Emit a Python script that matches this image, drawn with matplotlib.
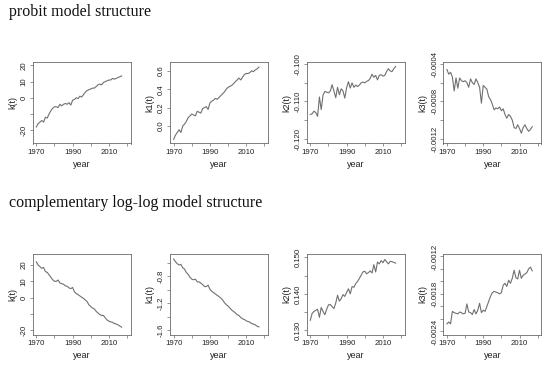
import numpy as np
import matplotlib
matplotlib.use("Agg")
import matplotlib.pyplot as plt

years = list(range(1970, 2018))

probit_k = [-18, -16, -15, -14, -15, -12, -12.5, -10, -8, -6.5, -5.5, -5.5, -6, -4, -5, -4,
            -3.5, -4, -3, -4.5, -1.5, -1, 0, -0.5, 1, 0.5, 2, 3.5, 4.5, 5, 5.5, 6, 6, 7, 8,
            8.5, 8, 9.5, 10, 10.5, 11, 11, 12, 11.5, 12, 12.5, 13, 13.5]
probit_k1 = [-0.145, -0.10, -0.07, -0.04, -0.07, 0.0, 0.02, 0.05, 0.09, 0.11, 0.13, 0.12,
             0.11, 0.16, 0.15, 0.14, 0.19, 0.20, 0.21, 0.18, 0.25, 0.27, 0.28, 0.30, 0.29,
             0.31, 0.33, 0.35, 0.37, 0.40, 0.42, 0.43, 0.44, 0.46, 0.48, 0.50, 0.52, 0.50,
             0.53, 0.56, 0.57, 0.57, 0.58, 0.60, 0.59, 0.61, 0.62, 0.64]
probit_k2 = [-0.1135, -0.1133, -0.1126, -0.1130, -0.1140, -0.1088, -0.1122, -0.1083, -0.1073,
             -0.1075, -0.1077, -0.1072, -0.1055, -0.1072, -0.1090, -0.1062, -0.1082, -0.1066,
             -0.1072, -0.1091, -0.1063, -0.1047, -0.1064, -0.1050, -0.1062, -0.1056, -0.1060,
             -0.1056, -0.1050, -0.1048, -0.1050, -0.1046, -0.1044, -0.1038, -0.1027, -0.1035,
             -0.1030, -0.1042, -0.1030, -0.1028, -0.1032, -0.1030, -0.1020, -0.1012, -0.1018,
             -0.1020, -0.1012, -0.1006]
probit_k3 = [-0.00046, -0.00051, -0.00049, -0.00054, -0.00069, -0.00055, -0.00066, -0.00055,
             -0.00058, -0.00059, -0.00058, -0.00060, -0.00065, -0.00056, -0.00060, -0.00062,
             -0.00056, -0.00060, -0.00065, -0.00082, -0.00063, -0.00065, -0.00067, -0.00075,
             -0.00078, -0.00083, -0.00089, -0.00087, -0.00088, -0.00086, -0.00090, -0.00088,
             -0.00094, -0.00098, -0.00094, -0.00096, -0.00100, -0.00108, -0.00109, -0.00105,
             -0.00109, -0.00114, -0.00108, -0.00105, -0.00109, -0.00112, -0.00110, -0.00107]

cloglog_k = [22.0, 20.0, 19.0, 18.0, 18.5, 16.0, 15.5, 14.0, 12.5, 11.0, 10.0, 10.0, 10.8,
             9.0, 8.5, 8.2, 7.2, 7.0, 6.0, 5.5, 6.2, 3.5, 2.5, 1.8, 1.0, 0.2, -0.5, -1.5,
             -2.5, -4.5, -5.5, -6.5, -7.0, -8.5, -9.5, -10.5, -11.0, -11.0, -12.5, -13.8,
             -14.5, -15.0, -15.2, -16.0, -16.2, -16.8, -17.5, -18.2]
cloglog_k1 = [-0.54, -0.58, -0.61, -0.63, -0.62, -0.67, -0.69, -0.74, -0.77, -0.81, -0.84,
              -0.85, -0.84, -0.88, -0.88, -0.90, -0.92, -0.95, -0.95, -0.93, -0.99, -1.02,
              -1.04, -1.06, -1.08, -1.10, -1.12, -1.15, -1.19, -1.22, -1.24, -1.27, -1.30,
              -1.32, -1.34, -1.37, -1.38, -1.41, -1.43, -1.44, -1.46, -1.47, -1.48, -1.50,
              -1.51, -1.52, -1.54, -1.55]
cloglog_k2 = [0.1328, 0.1347, 0.1352, 0.1355, 0.1358, 0.1336, 0.1363, 0.1352, 0.1343, 0.1358,
              0.1370, 0.1371, 0.1365, 0.1360, 0.1375, 0.1396, 0.1380, 0.1387, 0.1398, 0.1393,
              0.1404, 0.1414, 0.1400, 0.1420, 0.1418, 0.1428, 0.1434, 0.1442, 0.1451, 0.1460,
              0.1462, 0.1455, 0.1458, 0.1463, 0.1457, 0.1480, 0.1460, 0.1487, 0.1482, 0.1491,
              0.1485, 0.1494, 0.1488, 0.1482, 0.1489, 0.1488, 0.1486, 0.1484]
cloglog_k3 = [-0.00228, -0.00225, -0.00228, -0.00208, -0.00210, -0.00211, -0.00212, -0.00209,
              -0.00210, -0.00212, -0.00211, -0.00196, -0.00209, -0.00210, -0.00213, -0.00205,
              -0.00212, -0.00206, -0.00195, -0.00210, -0.00206, -0.00208, -0.00200, -0.00192,
              -0.00184, -0.00178, -0.00176, -0.00177, -0.00178, -0.00180, -0.00178, -0.00166,
              -0.00163, -0.00168, -0.00158, -0.00163, -0.00155, -0.00142, -0.00154, -0.00156,
              -0.00142, -0.00155, -0.00150, -0.00148, -0.00146, -0.00140, -0.00137, -0.00143]

x_ticks = [1970, 1980, 1990, 2000, 2010, 2020]
x_ticklabels = ["1970", "", "1990", "", "2010", ""]

titles = ["probit model structure", "complementary log-log model structure"]
ylabels = ["k(t)", "k1(t)", "k2(t)", "k3(t)"]

rows = [
    [probit_k, probit_k1, probit_k2, probit_k3],
    [cloglog_k, cloglog_k1, cloglog_k2, cloglog_k3],
]
yticks = [
    [([-20, -10, 0, 10, 20], ["-20", "", "0", "10", "20"]),
     ([0.0, 0.2, 0.4, 0.6], ["0.0", "0.2", "0.4", "0.6"]),
     ([-0.120, -0.115, -0.110, -0.105, -0.100], ["-0.120", "", "-0.110", "", "-0.100"]),
     ([-0.0012, -0.0010, -0.0008, -0.0006, -0.0004], ["-0.0012", "", "-0.0008", "", "-0.0004"])],
    [([-20, -10, 0, 10, 20], ["-20", "", "0", "10", "20"]),
     ([-1.6, -1.4, -1.2, -1.0, -0.8, -0.6], ["-1.6", "", "-1.2", "", "-0.8", ""]),
     ([0.130, 0.135, 0.140, 0.145, 0.150], ["0.130", "", "0.140", "", "0.150"]),
     ([-0.0024, -0.0022, -0.0020, -0.0018, -0.0016, -0.0014, -0.0012],
      ["-0.0024", "", "", "-0.0018", "", "", "-0.0012"])],
]
ylims = [
    [(-28.2, 22.1), (-0.19, 0.695), (-0.1213, -0.0994), (-0.00125, -0.00038)],
    [(-22.7, 26.8), (-1.663, -0.466), (0.1289, 0.1509), (-0.00245, -0.00116)],
]

W, H = 550, 369
fig = plt.figure(figsize=(W / 100, H / 100), dpi=100)

lefts = [32.7, 170.0, 306.7, 443.3]
width = 98.0
row_top = [62.0, 254.0]
row_bot = [143.5, 334.5]
title_y = [12.5, 203.5]

edge = "#6a6a6a"
for r in range(2):
    fig.text(9 / W, 1 - title_y[r] / H, titles[r], family="Liberation Serif",
             fontsize=11.5, ha="left", va="center", color="#111111")
    for c in range(4):
        ax = fig.add_axes([lefts[c] / W, 1 - row_bot[r] / H, width / W,
                           (row_bot[r] - row_top[r]) / H])
        ax.plot(years, rows[r][c], color="#707070", lw=0.8)
        ax.set_xlim(1968, 2022)
        ax.set_ylim(*ylims[r][c])
        ax.set_xticks(x_ticks)
        ax.set_xticklabels(x_ticklabels)
        ax.set_yticks(yticks[r][c][0])
        ax.set_yticklabels(yticks[r][c][1], rotation=90, va="center")
        ax.tick_params(labelsize=5.6, length=2.2, width=0.5, color=edge,
                       labelcolor="#222222", pad=1.5)
        for lab in ax.get_xticklabels() + ax.get_yticklabels():
            lab.set_family("Liberation Sans")
        for s in ax.spines.values():
            s.set_color(edge)
            s.set_linewidth(0.6)
        ax.set_xlabel("year", fontsize=6.5, family="Liberation Sans", labelpad=3,
                      color="#222222")
        ax.set_ylabel(ylabels[c], fontsize=6.5, family="Liberation Sans", labelpad=2.5,
                      color="#222222")

fig.savefig("out.png", dpi=100)
